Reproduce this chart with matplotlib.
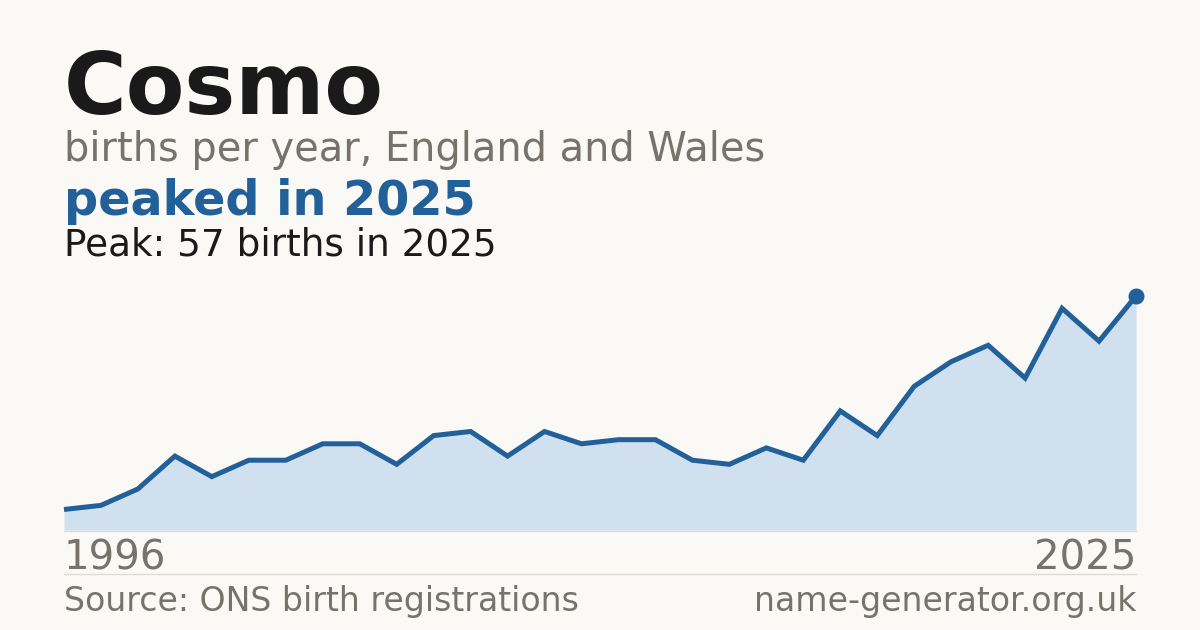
import numpy as np
import matplotlib.pyplot as plt

years = list(range(1996, 2026))
births = [5, 6, 10, 18, 13, 17, 17, 21, 21, 16, 23, 24, 18, 24, 21, 22, 22, 17, 16, 20,
          17, 29, 23, 35, 41, 45, 37, 54, 46, 57]

name = "Cosmo"
subtitle = "births per year, England and Wales"
headline = "peaked in 2025"
peak_note = "Peak: 57 births in 2025"
source = "Source: ONS birth registrations"
site = "name-generator.org.uk"

bg = "#faf9f5"
blue = "#22609a"
fill = "#d0e0ef"
grey = "#77726b"
dark = "#1a1a1a"

W, H = 1200, 630
fig = plt.figure(figsize=(12, 6.3), dpi=100, facecolor=bg)

def fy(px):
    return 1 - px / H

# plot area: x 64..1136, baseline at 530, peak at 296
ax = fig.add_axes([64 / W, fy(530), (1136 - 64) / W, (530 - 296) / H])
ax.set_facecolor("none")
ax.fill_between(years, births, 0, color=fill, lw=0)
ax.plot(years, births, color=blue, lw=3.6, solid_joinstyle="miter",
        solid_capstyle="butt", clip_on=False)
ax.plot(years[-1], births[-1], "o", color=blue, ms=10.5, clip_on=False)
ax.set_xlim(years[0], years[-1])
ax.set_ylim(0, max(births))
ax.axis("off")

# baseline and separator
fig.add_artist(plt.Line2D([64 / W, 1136 / W], [fy(530.5)] * 2, color="#dedbd4", lw=1))
fig.add_artist(plt.Line2D([64 / W, 1136 / W], [fy(574)] * 2, color="#dedbd4", lw=1))

fig.text(64 / W, fy(114), name, fontsize=61.6, fontweight="bold", color=dark, va="baseline")
fig.text(64 / W, fy(161), subtitle, fontsize=28.7, color=grey, va="baseline")
fig.text(64 / W, fy(215), headline, fontsize=34.4, fontweight="bold", color=blue, va="baseline")
fig.text(64 / W, fy(255), peak_note, fontsize=26.9, color=dark, va="baseline")

fig.text(64 / W, fy(569), str(years[0]), fontsize=29, color=grey, va="baseline")
fig.text(1136 / W, fy(569), str(years[-1]), fontsize=29, color=grey, va="baseline", ha="right")

fig.text(64 / W, fy(611), source, fontsize=23.9, color=grey, va="baseline")
fig.text(1136 / W, fy(611), site, fontsize=23.9, color=grey, va="baseline", ha="right")

fig.savefig("out.png", dpi=100, facecolor=bg)
